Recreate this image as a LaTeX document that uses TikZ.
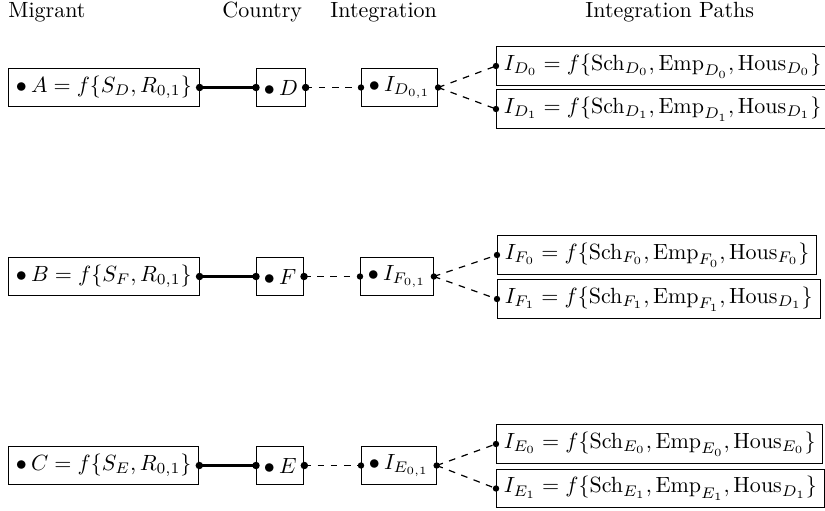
\documentclass[tikz,border=0pt]{standalone}
\begin{document}
\begin{tikzpicture}[x=0.4545pt,y=-0.4545pt,
  box/.style={draw, line width=0.45pt, inner sep=3.33pt, anchor=west, minimum height=16.9pt},
  title/.style={anchor=base west, inner sep=0pt},
  solidlink/.style={line width=1.1pt},
  dashlink/.style={dashed, line width=0.55pt},
  dotr/.style={fill=black}]
\newcommand{\bsp}{$\bullet$\hspace{1.9pt}}
\useasboundingbox (0,0) rectangle (825,511);
% titles
\node[title] (t1) at (8,18) {Migrant};
\node[title] (t2) at (222,18) {Country};
\node[title] (t3) at (330,18) {Integration};
\node[title] (t4) at (585,18) {Integration Paths};
% row 1
\node[box] (A) at (8,87.5) {\bsp$A = f\{S_D, R_{0,1}\}$};
\node[box] (D) at (256,87.5) {\bsp$D$};
\node[box] (ID) at (361,87.5) {\bsp$I_{D_{0,1}}$};
\node[box] (ID0) at (496,66) {$I_{D_0} = f\{\mathrm{Sch}_{D_0}, \mathrm{Emp}_{D_0}, \mathrm{Hous}_{D_0}\}$};
\node[box] (ID1) at (496,109) {$I_{D_1} = f\{\mathrm{Sch}_{D_1}, \mathrm{Emp}_{D_1}, \mathrm{Hous}_{D_1}\}$};
% row 2
\node[box] (B) at (8,276.5) {\bsp$B = f\{S_F, R_{0,1}\}$};
\node[box] (F) at (256,276.5) {\bsp$F$};
\node[box] (IF) at (360,276.5) {\bsp$I_{F_{0,1}}$};
\node[box] (IF0) at (497,255) {$I_{F_0} = f\{\mathrm{Sch}_{F_0}, \mathrm{Emp}_{F_0}, \mathrm{Hous}_{F_0}\}$};
\node[box] (IF1) at (497,299) {$I_{F_1} = f\{\mathrm{Sch}_{F_1}, \mathrm{Emp}_{F_1}, \mathrm{Hous}_{D_1}\}$};
% row 3
\node[box] (C) at (8,465.5) {\bsp$C = f\{S_E, R_{0,1}\}$};
\node[box] (E) at (256,465.5) {\bsp$E$};
\node[box] (IE) at (361,465.5) {\bsp$I_{E_{0,1}}$};
\node[box] (IE0) at (496,444) {$I_{E_0} = f\{\mathrm{Sch}_{E_0}, \mathrm{Emp}_{E_0}, \mathrm{Hous}_{E_0}\}$};
\node[box] (IE1) at (496,488.5) {$I_{E_1} = f\{\mathrm{Sch}_{E_1}, \mathrm{Emp}_{E_1}, \mathrm{Hous}_{D_1}\}$};
% connectors
\foreach \m/\c/\i in {A/D/ID, B/F/IF, C/E/IE}{
  \draw[solidlink] (\m.east) -- (\c.west);
  \draw[dashlink] (\c.east) -- (\i.west);
  \draw[dashlink] (\i.east) -- (\i0.west);
  \draw[dashlink] (\i.east) -- (\i1.west);
  \foreach \p in {\m.east, \c.west, \c.east}
    \fill[dotr] (\p) circle (1.7pt);
  \foreach \p in {\i.west, \i.east, \i0.west, \i1.west}
    \fill[dotr] (\p) circle (1.45pt);
}
\end{tikzpicture}
\end{document}
